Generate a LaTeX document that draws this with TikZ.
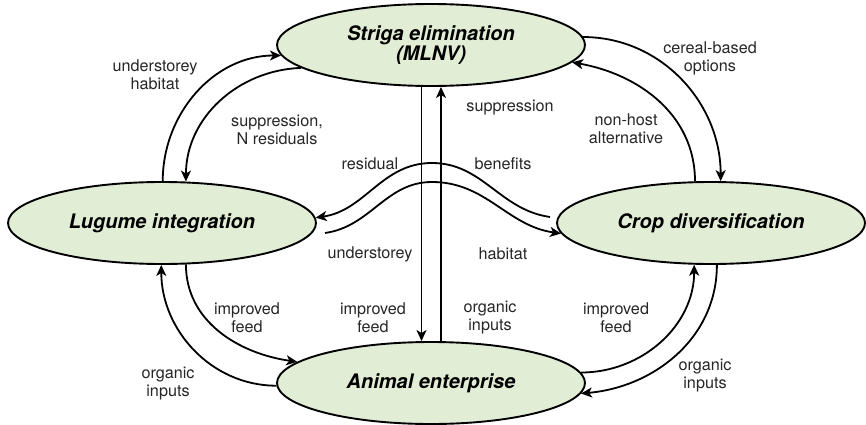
\documentclass[tikz,border=0pt]{standalone}
\usepackage{fontspec}
\setmainfont{TeX Gyre Heros}
\usetikzlibrary{shapes.geometric,arrows.meta}
\definecolor{ellfill}{RGB}{226,237,214}
\tikzset{
  ell/.style={ellipse, draw, line width=1.9pt, fill=ellfill, minimum width=308pt, minimum height=82pt, inner sep=0pt, align=center, font=\bfseries\itshape\fontsize{20}{20}\selectfont},
  lbl/.style={font=\fontsize{16.2}{18}\selectfont, align=center, text=black!85, inner sep=0pt},
  arr/.style={-{Stealth[length=11pt,width=10pt,inset=3pt]}, line width=1.8pt},
}
\begin{document}
\begin{tikzpicture}[x=1pt,y=1pt]
\useasboundingbox (0,0) rectangle (866,424);
% nodes
\node[ell] (strg) at (431,379) {Striga elimination\\(MLNV)};
\node[ell] (lug) at (162,201) {Lugume integration};
\node[ell] (crop) at (711,201) {Crop diversification};
\node[ell] (anim) at (431,41) {Animal enterprise};
% free coordinates
\coordinate (resS) at (550,207);
\coordinate (resP) at (432,261);
\coordinate (habS) at (325,191);
\coordinate (habP) at (432,242);
% vertical arrows
\draw[arr] ([xshift=-9.5pt]strg.south) -- ([xshift=-9.5pt]anim.north);
\draw[arr] ([xshift=10pt]anim.north) -- ([xshift=10pt]strg.south);
% upper left
\draw[arr] (lug.89) to[out=90,in=180] (strg.184);
\draw[arr] (strg.190.6) to[out=182,in=90] (lug.60);
% upper right
\draw[arr] (strg.3) to[out=0,in=90] (crop.77.6);
\draw[arr] (crop.111.4) to[out=90,in=-10] (strg.353);
% S curves
\draw[arr] (resS) to[out=172,in=0] (resP) to[out=180,in=8] (lug.2);
\draw[arr] (habS) to[out=8,in=180] (habP) to[out=0,in=172] (crop.184.5);
% lower left
\draw[arr] (lug.-60) to[out=-90,in=172] (anim.171);
\draw[arr] (anim.181) to[out=180,in=-90] (lug.269.6);
% lower right
\draw[arr] (anim.4) to[out=0,in=-90] (crop.248.6);
\draw[arr] (crop.278) to[out=-90,in=5] (anim.356);
% labels
\node[lbl] (l1) at (155,349) {understorey\\habitat};
\node[lbl] (l2) at (277,294.5) {suppression,\\N residuals};
\node[lbl] (l3) at (710,366) {cereal-based\\options};
\node[lbl] (l4) at (626,295) {non-host\\alternative};
\node[lbl] (l5) at (510,316) {suppression};
\node[lbl] (l6) at (370,260) {residual};
\node[lbl] (l7) at (503,260) {benefits};
\node[lbl] (l8) at (370,170) {understorey};
\node[lbl] (l9) at (503,170) {habitat};
\node[lbl] (l10) at (247,106) {improved\\feed};
\node[lbl] (l11) at (373,106) {improved\\feed};
\node[lbl] (l12) at (490,106) {organic\\inputs};
\node[lbl] (l13) at (616,106) {improved\\feed};
\node[lbl] (l14) at (168,40) {organic\\inputs};
\node[lbl] (l15) at (705,48) {organic\\inputs};
\end{tikzpicture}
\end{document}
